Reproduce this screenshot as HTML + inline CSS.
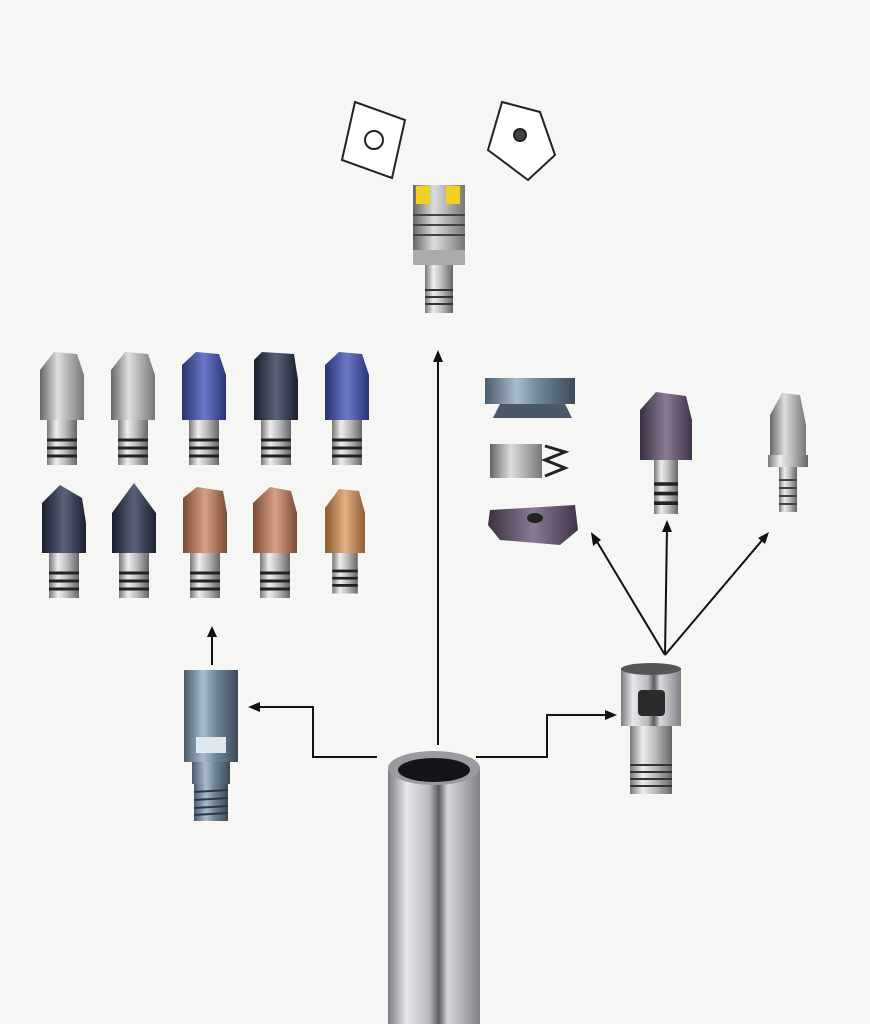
<!DOCTYPE html>
<html><head><meta charset="utf-8"><style>
html,body{margin:0;padding:0;background:#f6f6f4;}
svg{display:block}
</style></head><body>
<svg width="870" height="1024" viewBox="0 0 870 1024" xmlns="http://www.w3.org/2000/svg">
<defs>
<linearGradient id="silver" x1="0" x2="1" y1="0" y2="0">
<stop offset="0" stop-color="#7c7c80"/><stop offset="0.2" stop-color="#e8e8ec"/><stop offset="0.45" stop-color="#b8b8be"/><stop offset="0.55" stop-color="#5a5a60"/><stop offset="0.65" stop-color="#d8d8dc"/><stop offset="1" stop-color="#808086"/></linearGradient>
<linearGradient id="shank" x1="0" x2="1"><stop offset="0" stop-color="#777"/><stop offset="0.3" stop-color="#eee"/><stop offset="0.6" stop-color="#bbb"/><stop offset="1" stop-color="#666"/></linearGradient>
<linearGradient id="steel" x1="0" x2="1"><stop offset="0" stop-color="#4a5a6a"/><stop offset="0.35" stop-color="#a8bccc"/><stop offset="0.6" stop-color="#6f8596"/><stop offset="1" stop-color="#3c4a58"/></linearGradient>
<linearGradient id="gray" x1="0" x2="1"><stop offset="0" stop-color="#666"/><stop offset="0.4" stop-color="#ddd"/><stop offset="1" stop-color="#777"/></linearGradient>
<linearGradient id="blue" x1="0" x2="1"><stop offset="0" stop-color="#2a3270"/><stop offset="0.5" stop-color="#6a78c8"/><stop offset="1" stop-color="#2c3478"/></linearGradient>
<linearGradient id="dark" x1="0" x2="1"><stop offset="0" stop-color="#1a1e2c"/><stop offset="0.5" stop-color="#5a6278"/><stop offset="1" stop-color="#1c2030"/></linearGradient>
<linearGradient id="copper" x1="0" x2="1"><stop offset="0" stop-color="#7a4a36"/><stop offset="0.5" stop-color="#d8a084"/><stop offset="1" stop-color="#7a4c38"/></linearGradient>
<linearGradient id="gold" x1="0" x2="1"><stop offset="0" stop-color="#8a5a30"/><stop offset="0.5" stop-color="#e0b080"/><stop offset="1" stop-color="#905c34"/></linearGradient>
<linearGradient id="purple" x1="0" x2="1"><stop offset="0" stop-color="#3a3040"/><stop offset="0.5" stop-color="#8a7a94"/><stop offset="1" stop-color="#40344a"/></linearGradient>
<g id="shk">
<rect x="-15" y="0" width="30" height="45" fill="url(#shank)"/>
<g stroke="#222" stroke-width="3"><line x1="-15" y1="20" x2="15" y2="20"/><line x1="-15" y1="28" x2="15" y2="28"/><line x1="-15" y1="36" x2="15" y2="36"/></g>
</g>
</defs>

<!-- arrows -->
<g stroke="#111" stroke-width="2" fill="none">
<line x1="438" y1="745" x2="438" y2="360"/>
<polyline points="377,757 313,757 313,707 258,707"/>
<polyline points="476,757 547,757 547,715 607,715"/>
<line x1="212" y1="665" x2="212" y2="636"/>
<line x1="665" y1="655" x2="596" y2="540"/>
<line x1="665" y1="655" x2="667" y2="528"/>
<line x1="665" y1="655" x2="764" y2="538"/>
</g>
<g fill="#111">
<polygon points="438,350 433,362 443,362"/>
<polygon points="248,707 260,702 260,712"/>
<polygon points="617,715 605,710 605,720"/>
<polygon points="212,626 207,637 217,637"/>
<polygon points="591,532 593,546 601,540"/>
<polygon points="667,520 662,532 672,532"/>
<polygon points="769,532 758,538 765,544"/>
</g>

<!-- central tube -->
<rect x="388" y="768" width="92" height="256" fill="url(#silver)"/>
<ellipse cx="434" cy="768" rx="46" ry="17" fill="#9a9aa0"/>
<ellipse cx="434" cy="770" rx="36" ry="12" fill="#151518"/>

<!-- left adapter -->
<rect x="184" y="670" width="54" height="92" fill="url(#steel)"/>
<rect x="196" y="737" width="30" height="16" fill="#dfe8ee"/>
<rect x="192" y="762" width="38" height="22" fill="url(#steel)"/>
<rect x="194" y="784" width="34" height="37" fill="url(#steel)"/>
<g stroke="#2a3640" stroke-width="2"><line x1="194" y1="792" x2="228" y2="790"/><line x1="194" y1="800" x2="228" y2="798"/><line x1="194" y1="808" x2="228" y2="806"/><line x1="194" y1="815" x2="228" y2="813"/></g>

<!-- right adapter -->
<rect x="621" y="668" width="60" height="58" fill="url(#silver)"/>
<ellipse cx="651" cy="669" rx="30" ry="6" fill="#555"/>
<rect x="638" y="690" width="27" height="26" rx="4" fill="#2a2a2a"/>
<rect x="630" y="726" width="42" height="68" fill="url(#shank)"/>
<g stroke="#333" stroke-width="2"><line x1="630" y1="765" x2="672" y2="765"/><line x1="630" y1="772" x2="672" y2="772"/><line x1="630" y1="779" x2="672" y2="779"/><line x1="630" y1="786" x2="672" y2="786"/></g>

<!-- top tool -->
<rect x="413" y="185" width="52" height="80" fill="url(#gray)"/>
<rect x="416" y="186" width="14" height="18" fill="#f0d020"/>
<rect x="446" y="186" width="14" height="18" fill="#f0d020"/>
<g stroke="#444" stroke-width="2"><line x1="413" y1="215" x2="465" y2="215"/><line x1="413" y1="225" x2="465" y2="225"/><line x1="413" y1="235" x2="465" y2="235"/></g>
<rect x="413" y="250" width="52" height="15" fill="#aaa"/>
<rect x="425" y="265" width="28" height="48" fill="url(#shank)"/>
<g stroke="#333" stroke-width="2"><line x1="425" y1="290" x2="453" y2="290"/><line x1="425" y1="297" x2="453" y2="297"/><line x1="425" y1="304" x2="453" y2="304"/></g>

<!-- inserts -->
<g fill="#fff" stroke="#222" stroke-width="2">
<polygon points="355,102 405,120 392,178 342,160"/>
<circle cx="374" cy="140" r="9" fill="none"/>
<polygon points="502,102 540,112 555,155 528,180 488,150"/>
<circle cx="520" cy="135" r="6" fill="#444"/>
</g>

<!-- left grid -->
<g transform="translate(62,420)"><path d="M-22,0 L-22,-50 L-8,-68 L15,-66 L22,-45 L22,0Z" fill="url(#gray)"/><use href="#shk"/></g>
<g transform="translate(133,420)"><path d="M-22,0 L-22,-50 L-8,-68 L15,-66 L22,-45 L22,0Z" fill="url(#gray)"/><use href="#shk"/></g>
<g transform="translate(204,420)"><path d="M-22,0 L-22,-55 L-8,-68 L15,-66 L22,-45 L22,0Z" fill="url(#blue)"/><use href="#shk"/></g>
<g transform="translate(276,420)"><path d="M-22,0 L-22,-60 L-14,-68 L18,-66 L22,-40 L22,0Z" fill="url(#dark)"/><use href="#shk"/></g>
<g transform="translate(347,420)"><path d="M-22,0 L-22,-55 L-8,-68 L15,-66 L22,-45 L22,0Z" fill="url(#blue)"/><use href="#shk"/></g>

<g transform="translate(64,553)"><path d="M-22,0 L-22,-50 L-4,-68 L18,-55 L22,-30 L22,0Z" fill="url(#dark)"/><use href="#shk"/></g>
<g transform="translate(134,553)"><path d="M-22,0 L-22,-40 L0,-70 L22,-40 L22,0Z" fill="url(#dark)"/><use href="#shk"/></g>
<g transform="translate(205,553)"><path d="M-22,0 L-22,-55 L-8,-66 L18,-62 L22,-40 L22,0Z" fill="url(#copper)"/><use href="#shk"/></g>
<g transform="translate(275,553)"><path d="M-22,0 L-22,-50 L-5,-66 L16,-62 L22,-40 L22,0Z" fill="url(#copper)"/><use href="#shk"/></g>
<g transform="translate(345,553)"><path d="M-20,0 L-20,-45 L-6,-64 L14,-62 L20,-40 L20,0Z" fill="url(#gold)"/><use href="#shk" transform="scale(0.85,0.9)"/></g>

<!-- right cutters -->
<rect x="485" y="378" width="90" height="26" fill="url(#steel)"/>
<polygon points="500,404 565,404 572,418 493,418" fill="#4a5868"/>
<rect x="490" y="444" width="52" height="34" fill="url(#gray)"/>
<polyline points="545,446 565,452 545,460 565,468 545,476" fill="none" stroke="#222" stroke-width="3"/>
<polygon points="490,510 575,505 578,530 560,545 500,540 488,525" fill="url(#purple)"/>
<ellipse cx="535" cy="518" rx="8" ry="5" fill="#222"/>

<g transform="translate(666,460)"><path d="M-26,0 L-26,-50 L-10,-68 L20,-64 L26,-40 L26,0Z" fill="url(#purple)"/><use href="#shk" transform="scale(0.8,1.2)"/></g>
<g transform="translate(788,455)"><path d="M-18,0 L-18,-40 L-6,-62 L12,-60 L18,-30 L18,0Z" fill="url(#gray)"/><rect x="-20" y="0" width="40" height="12" fill="url(#shank)"/><rect x="-9" y="12" width="18" height="45" fill="url(#shank)"/><g stroke="#444" stroke-width="2"><line x1="-9" y1="25" x2="9" y2="25"/><line x1="-9" y1="33" x2="9" y2="33"/><line x1="-9" y1="41" x2="9" y2="41"/><line x1="-9" y1="49" x2="9" y2="49"/></g></g>
</svg>
</body></html>
